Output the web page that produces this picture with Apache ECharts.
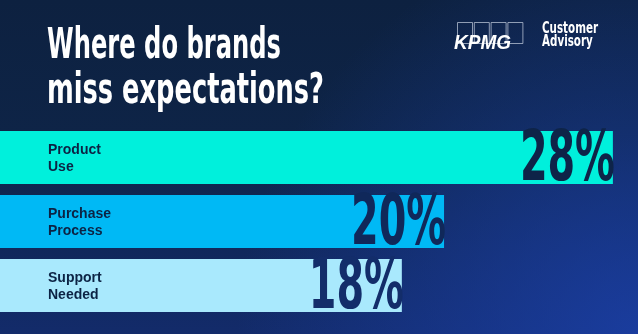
<!DOCTYPE html>
<html><head><meta charset="utf-8">
<script src="https://cdn.jsdelivr.net/npm/echarts@6/dist/echarts.min.js"></script>
<style>html,body{margin:0;padding:0;background:#0d2140;overflow:hidden}#c{width:638px;height:334px}</style>
</head><body><div id="c"></div>
<script>
// ---- data ----
const categories = ['Product Use', 'Purchase Process', 'Support Needed'];
const values = [28, 20, 18];
const titleLines = ['Where do brands', 'miss expectations?'];
const brandName = 'KPMG';
const brandLines = ['Customer', 'Advisory'];

// ---- styles ----
const barColors = ['#00f0dc', '#00b9f5', '#a9e9fd'];
const numberColors = ['#0e2448', '#10285a', '#132d6a'];
const labelColor = '#0c2344';
const condensed = '"Liberation Sans Narrow", "DejaVu Sans Condensed", "Liberation Sans", sans-serif';

function measure(text, font) {
  const ctx = document.createElement('canvas').getContext('2d');
  ctx.font = font;
  return ctx.measureText(text).width;
}
const titleFont = 'bold 43px ' + condensed;
const titleScale1 = 234 / measure(titleLines[0], titleFont);
const titleScale2 = 277 / measure(titleLines[1], titleFont);
const numFont = 'bold 69px ' + condensed;
const numScale = 95 / measure('28%', numFont);
const brandFont = 'bold 16px ' + condensed;
const brandScale = 56 / measure(brandLines[0], brandFont);

const chart = echarts.init(document.getElementById('c'), null, {renderer: 'canvas'});

const logoBoxes = [0, 1, 2, 3].map(k => ({
  type: 'rect', z: 50, silent: true,
  shape: {x: 457.5 + k * 16.8, y: 22.5, width: 15, height: 21},
  style: {fill: 'none', stroke: 'rgba(200,210,225,0.7)', lineWidth: 1}
}));

chart.setOption({
  animation: false,
  graphic: [
    {type: 'rect', z: -20, silent: true, shape: {x: 0, y: 0, width: 638, height: 334},
      style: {fill: {type: 'linear', x: 0, y: 0, x2: 0, y2: 1, colorStops: [
        {offset: 0, color: '#0d2140'}, {offset: 0.4, color: '#0e2447'}, {offset: 1, color: '#132b6a'}]}}},
    {type: 'rect', z: -19, silent: true, shape: {x: 0, y: 0, width: 638, height: 334},
      style: {fill: {type: 'radial', x: 1, y: 1, r: 1.2, colorStops: [
        {offset: 0, color: 'rgba(28,66,175,0.75)'}, {offset: 1, color: 'rgba(28,66,175,0)'}]}}},
    {type: 'text', z: 50, x: 47, y: 25, scaleX: titleScale1, silent: true,
      style: {text: titleLines[0], font: titleFont, fill: '#ffffff', verticalAlign: 'top'}},
    {type: 'text', z: 50, x: 47, y: 70, scaleX: titleScale2, silent: true,
      style: {text: titleLines[1], font: titleFont, fill: '#ffffff', verticalAlign: 'top'}},
    ...logoBoxes,
    {type: 'text', z: 51, x: 454, y: 33, scaleX: 0.95, silent: true,
      style: {text: brandName, font: 'italic bold 20px "Liberation Sans", Arial, sans-serif', fill: '#ffffff', verticalAlign: 'top'}},
    {type: 'text', z: 50, x: 542, y: 22, scaleX: brandScale, silent: true,
      style: {text: brandLines.join('\n'), font: brandFont, lineHeight: 13, fill: '#ffffff', verticalAlign: 'top'}}
  ],
  grid: {left: 0, right: 0, top: 125.5, bottom: 16.5, containLabel: false},
  xAxis: {type: 'value', min: -1.04, max: 29.19, startValue: -1.04, show: false},
  yAxis: {type: 'category', data: categories, inverse: true, show: false},
  series: [
    {
      type: 'bar', barWidth: 53, z: 2,
      data: values.map((v, i) => ({value: v, itemStyle: {color: barColors[i]}})),
      label: {
        show: true, position: [48, '50%'], align: 'left', verticalAlign: 'middle',
        formatter: p => p.name.replace(' ', '\n'),
        fontFamily: '"Liberation Sans", Arial, sans-serif', fontWeight: 'bold', fontSize: 14,
        lineHeight: 17, color: labelColor, offset: [0, 1]
      }
    },
    {
      type: 'custom', z: 5,
      data: values.map((v, i) => [v, i]),
      encode: {x: 0, y: 1},
      renderItem: (params, api) => {
        const v = api.value(0), i = api.value(1);
        const p = api.coord([v, i]);
        return {
          type: 'text', x: p[0] + 2, y: p[1] + 5, scaleX: numScale,
          style: {text: v + '%', font: numFont, fill: numberColors[i], align: 'right', verticalAlign: 'middle'}
        };
      }
    }
  ]
});
</script></body></html>
